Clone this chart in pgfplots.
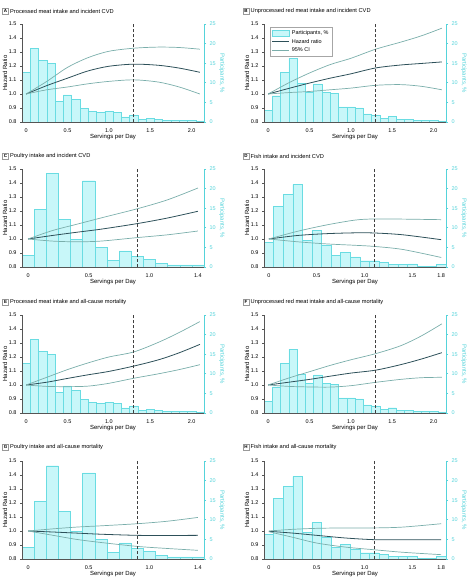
\documentclass[border=0pt]{standalone}
\usepackage{fontspec}
\setmainfont{Liberation Sans}
\usepackage{pgfplots}
\usepackage{pgfplotstable}
\pgfplotsset{compat=1.18}
\definecolor{barfill}{HTML}{C8F7F9}
\definecolor{baredge}{HTML}{6ADCE2}
\definecolor{cyanax}{HTML}{55D3DA}
\definecolor{hrcol}{HTML}{2D5059}
\definecolor{cicol}{HTML}{7AAEAB}
\definecolor{axgray}{HTML}{555555}

% participants (%) per 0.1 serving bin
\pgfplotstableread{
x p
0 12.6
0.1 18.8
0.2 15.8
0.3 15.0
0.4 5.2
0.5 6.9
0.6 5.8
0.7 3.4
0.8 2.8
0.9 2.5
1.0 2.8
1.1 2.5
1.2 1.3
1.3 1.8
1.4 0.6
1.5 1.0
1.6 0.6
1.7 0.4
1.8 0.4
1.9 0.5
2.0 0.4
2.1 0.3
}\barsProc
\pgfplotstableread{
x p
0 2.9
0.1 6.7
0.2 12.6
0.3 16.3
0.4 9.8
0.5 7.6
0.6 9.7
0.7 7.6
0.8 7.3
0.9 3.85
1.0 3.85
1.1 3.6
1.2 2.05
1.3 1.8
1.4 0.95
1.5 1.35
1.6 0.6
1.7 0.7
1.8 0.35
1.9 0.35
2.0 0.35
2.1 0.3
}\barsRed
\pgfplotstableread{
x p
0 3.0
0.1 14.7
0.2 23.8
0.3 12.2
0.4 7.1
0.5 22.0
0.6 5.0
0.7 1.7
0.8 4.1
0.9 2.75
1.0 2.0
1.1 0.85
1.2 0.55
1.3 0.55
1.4 0.55
}\barsPoul
\pgfplotstableread{
x p
0 6.3
0.1 15.4
0.2 18.5
0.3 21.0
0.4 6.8
0.5 9.3
0.6 5.6
0.7 2.9
0.8 3.75
0.9 2.6
1.0 1.6
1.1 1.6
1.2 1.25
1.3 0.6
1.4 0.6
1.5 0.8
1.6 0.25
1.7 0.25
1.8 0.6
}\barsFish

% hazard ratio curves: x, HR, lower 95% CI, upper 95% CI
\pgfplotstableread{
x hr lo hi
0 1.0 1.0 1.0
0.25 1.06 1.03 1.09
0.5 1.113 1.05 1.19
0.75 1.165 1.073 1.26
1.0 1.198 1.09 1.305
1.3 1.213 1.101 1.327
1.6 1.205 1.085 1.335
1.85 1.185 1.05 1.332
2.1 1.155 1.0 1.32
}\curA
\pgfplotstableread{
x hr lo hi
0 1.0 1.0 1.0
0.25 1.04 1.01 1.08
0.5 1.078 1.018 1.15
0.75 1.113 1.03 1.21
1.0 1.144 1.042 1.255
1.3 1.186 1.062 1.32
1.6 1.207 1.067 1.37
1.85 1.218 1.055 1.415
2.1 1.229 1.03 1.47
}\curB
\pgfplotstableread{
x hr lo hi
0 1.0 1.0 1.0
0.2 1.025 0.985 1.06
0.4 1.048 0.98 1.105
0.6 1.07 0.985 1.15
0.9 1.11 1.01 1.216
1.15 1.15 1.03 1.28
1.4 1.198 1.057 1.364
}\curC
\pgfplotstableread{
x hr lo hi
0 1.0 1.0 1.0
0.3 1.025 0.98 1.055
0.6 1.038 0.965 1.1
0.9 1.044 0.955 1.135
1.1 1.043 0.947 1.143
1.4 1.03 0.925 1.142
1.8 0.995 0.868 1.138
}\curD
\pgfplotstableread{
x hr lo hi
0 1.0 1.0 1.0
0.25 1.02 0.99 1.055
0.5 1.047 0.988 1.11
0.75 1.073 0.992 1.158
1.0 1.097 1.012 1.2
1.3 1.135 1.048 1.236
1.6 1.18 1.08 1.305
1.85 1.23 1.11 1.375
2.1 1.29 1.145 1.453
}\curE
\pgfplotstableread{
x hr lo hi
0 1.0 1.0 1.0
0.25 1.02 0.99 1.05
0.5 1.04 0.986 1.095
0.75 1.063 0.985 1.14
1.0 1.085 0.995 1.18
1.3 1.106 1.019 1.224
1.6 1.145 1.04 1.28
1.85 1.185 1.052 1.35
2.1 1.231 1.055 1.437
}\curF
\pgfplotstableread{
x hr lo hi
0 1.0 1.0 1.0
0.2 0.993 0.97 1.015
0.4 0.985 0.94 1.028
0.6 0.977 0.918 1.037
0.9 0.969 0.89 1.052
1.15 0.968 0.875 1.07
1.4 0.969 0.862 1.097
}\curG
\pgfplotstableread{
x hr lo hi
0 0.998 0.995 1.0
0.25 0.985 0.955 1.012
0.5 0.969 0.914 1.019
0.8 0.95 0.885 1.022
1.1 0.938 0.866 1.022
1.4 0.937 0.848 1.028
1.8 0.938 0.831 1.052
}\curH

\pgfplotsset{
  base/.style={scale only axis, width=182bp, height=98bp,
    font=\fontsize{5.5}{6.5}\selectfont,
    /pgf/number format/assume math mode=true,
    tick align=outside, major tick length=2bp,
    label style={font=\fontsize{6}{7}\selectfont}},
  barax/.style={base, axis y line*=right, axis x line=none,
    ymin=0, ymax=25, ytick={0,5,10,15,20,25},
    y axis line style={cyanax, line width=0.6bp},
    ytick style={cyanax, line width=0.6bp},
    yticklabel style={text=cyanax},
    ylabel={Participants, \%},
    y label style={at={(axis description cs:1.099,0.5)}, anchor=center, rotate=180, text=cyanax}},
  hrax/.style={base, axis y line*=left, axis x line*=bottom,
    ymin=0.8, ymax=1.5, ytick={0.8,0.9,1.0,1.1,1.2,1.3,1.4,1.5},
    yticklabel style={/pgf/number format/.cd, fixed, fixed zerofill, precision=1},
    axis line style={axgray, line width=0.5bp},
    ytick style={axgray, line width=0.5bp},
    xtick style={draw=none},
    xticklabel style={yshift=-1bp},
    ylabel={Hazard Ratio}, xlabel={Servings per Day},
    y label style={at={(axis description cs:-0.093,0.5)}, anchor=center},
    x label style={at={(axis description cs:0.5,-0.15)}, anchor=center},
    legend cell align=left,
    legend style={at={(0.035,0.97)}, anchor=north west, draw=gray!70,
      font=\fontsize{5.5}{6.5}\selectfont, row sep=-1bp, inner sep=1.5bp}},
}

\newcommand{\panel}[9]{%
  \begin{axis}[barax, at={(#1,#2)}, anchor=south west, xmin=-0.05, xmax=#5]
    \addplot[ybar, bar width=0.1, bar shift=0pt, fill=barfill, draw=baredge, line width=0.4bp] table[x=x,y=p] {#3};
  \end{axis}
  \begin{axis}[hrax, at={(#1,#2)}, anchor=south west, xmin=-0.05, xmax=#5,
      xtick={#6}, xticklabels={#7}, #9]
    \addlegendimage{area legend, fill=barfill, draw=baredge}
    \addplot[hrcol, line width=0.8bp, smooth] table[x=x,y=hr] {#4};
    \addplot[cicol, line width=0.7bp, smooth] table[x=x,y=hi] {#4};
    \addplot[cicol, line width=0.7bp, smooth, forget plot] table[x=x,y=lo] {#4};
    \addplot[densely dashed, black!75, line width=0.5bp, forget plot] coordinates {(#8,0.8) (#8,1.5)};
  \end{axis}%
}

\newcommand{\ptitle}[4]{%
  \node[draw=gray!80, line width=0.4bp, inner sep=0.6bp, minimum width=6bp, minimum height=6bp,
        font=\bfseries\fontsize{4.5}{5}\selectfont] at (#1,#2) {#3};
  \node[anchor=west, font=\fontsize{5.7}{6.5}\selectfont, inner sep=0pt] at ([xshift=4.5bp]#1,#2) {#4};%
}

\begin{document}
\begin{tikzpicture}[x=1bp,y=1bp]
\useasboundingbox (0,0) rectangle (467,582);

\panel{22bp}{460bp}{\barsProc}{\curA}{2.15}{0,0.5,1.0,1.5,2.0}{0,0.5,1.0,1.5,2.0}{1.3}{}
\panel{264bp}{460bp}{\barsRed}{\curB}{2.15}{0,0.5,1.0,1.5,2.0}{0,0.5,1.0,1.5,2.0}{1.3}{legend entries={{Participants, \%},{Hazard ratio},{95\% CI}}}
\panel{22bp}{315bp}{\barsPoul}{\curC}{1.45}{0,0.5,1.0,1.4}{0,0.5,1.0,1.4}{0.9}{}
\panel{264bp}{315bp}{\barsFish}{\curD}{1.85}{0,0.5,1.0,1.5,1.8}{0,0.5,1.0,1.5,1.8}{1.1}{}
\panel{22bp}{169bp}{\barsProc}{\curE}{2.15}{0,0.5,1.0,1.5,2.0}{0,0.5,1.0,1.5,2.0}{1.3}{}
\panel{264bp}{169bp}{\barsRed}{\curF}{2.15}{0,0.5,1.0,1.5,2.0}{0,0.5,1.0,1.5,2.0}{1.3}{}
\panel{22bp}{23bp}{\barsPoul}{\curG}{1.45}{0,0.5,1.0,1.4}{0,0.5,1.0,1.4}{0.9}{}
\panel{264bp}{23bp}{\barsFish}{\curH}{1.85}{0,0.5,1.0,1.5,1.8}{0,0.5,1.0,1.5,1.8}{1.1}{}

\ptitle{5.5}{571}{A}{Processed meat intake and incident CVD}
\ptitle{246}{571}{B}{Unprocessed red meat intake and incident CVD}
\ptitle{5.5}{426}{C}{Poultry intake and incident CVD}
\ptitle{246}{426}{D}{Fish intake and incident CVD}
\ptitle{5.5}{280}{E}{Processed meat intake and all-cause mortality}
\ptitle{246}{280}{F}{Unprocessed red meat intake and all-cause mortality}
\ptitle{5.5}{135}{G}{Poultry intake and all-cause mortality}
\ptitle{246}{135}{H}{Fish intake and all-cause mortality}
\end{tikzpicture}
\end{document}
